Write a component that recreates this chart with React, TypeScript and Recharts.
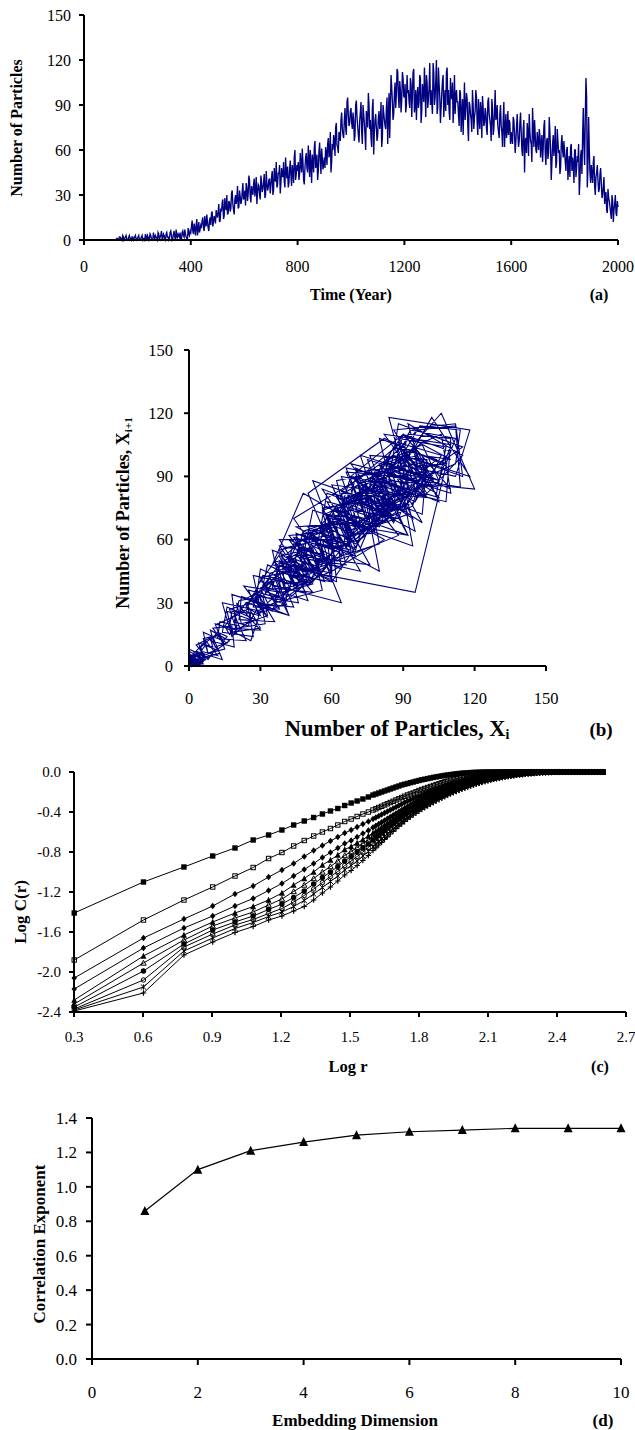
import React from 'react';
import { LineChart, Line, XAxis, YAxis } from 'recharts';

const FONT = '"Liberation Serif", "Times New Roman", serif';

// ---------- Panel (a): number of particles ----------
// readings on whole 5-year marks (0, 5, ..., 2000)
const particlesOnStep: number[] = [
  0,0,0,0,0,0,0,0,0,0,0,0,0,0,0,0,0,0,0,0,
  0,0,0,0,0,1,0,2,1,3,0,2,1,0,3,1,2,0,2,1,
  1,3,0,2,0,1,4,0,2,1,3,0,5,1,2,0,4,2,6,1,
  3,0,5,2,1,6,0,4,2,7,1,3,5,0,6,2,4,1,8,3,
  5,13,4,8,10,3,12,7,9,15,6,11,17,8,13,10,19,12,14,20,
  15,24,13,19,27,16,22,30,18,25,21,33,20,27,24,36,22,29,26,38,
  28,23,35,31,40,25,33,37,29,42,32,36,27,39,34,44,30,38,35,41,
  36,46,33,40,52,37,44,31,48,42,39,55,41,35,47,43,50,38,60,44,
  46,40,58,45,52,37,55,48,63,42,50,57,45,66,51,40,59,53,61,47,
  55,62,50,68,58,45,64,70,56,78,62,72,66,85,70,80,75,92,83,78,
  88,74,80,70,93,76,65,85,72,90,78,60,82,98,74,68,88,57,80,75,
  70,86,78,62,90,80,74,95,83,68,110,92,84,105,97,112,88,100,93,108,
  95,85,110,100,88,104,96,114,90,80,102,92,108,86,98,115,82,105,94,118,
  100,84,112,95,120,88,104,78,98,110,92,86,115,100,80,96,105,90,84,100,
  92,76,98,84,70,105,88,94,66,90,80,100,74,86,95,70,82,92,68,88,
  78,85,70,95,80,66,88,74,100,82,76,68,90,72,80,62,84,74,70,78,
  72,64,80,58,76,70,66,85,60,74,45,68,78,56,72,64,88,62,70,58,
  66,74,55,70,62,80,50,68,58,72,40,64,56,76,52,66,60,48,70,55,
  58,46,62,50,42,64,55,38,60,48,52,30,56,44,88,50,108,35,82,45,
  50,38,56,30,45,40,34,48,28,36,24,32,18,28,22,14,26,20,30,16,
  22,
];
// readings half-way between the 5-year marks (2.5, 7.5, ..., 1997.5)
const particlesHalfStep: number[] = [
  0,0,0,0,0,0,0,0,0,0,0,0,0,0,0,0,0,0,0,0,
  0,0,0,0,1,0,2,1,0,2,1,3,0,2,1,0,2,1,3,0,
  2,0,1,3,1,0,2,3,0,4,1,0,2,3,1,5,0,3,1,4,
  1,4,2,0,5,3,1,6,0,3,4,2,0,5,3,7,2,0,4,6,
  9,6,11,3,14,7,5,10,13,8,16,9,12,6,15,18,9,16,11,17,
  19,12,21,25,14,28,20,17,26,19,31,24,17,30,28,21,33,24,32,27,
  33,38,26,43,29,36,30,41,34,24,37,30,43,32,38,28,46,33,40,31,
  42,30,48,39,35,45,50,38,43,52,35,46,49,38,53,36,45,55,40,50,
  52,44,50,61,40,48,58,45,54,60,38,53,62,48,57,46,65,44,55,50,
  48,58,64,55,72,52,60,66,75,63,58,70,80,74,68,88,70,95,76,86,
  78,85,66,90,82,70,79,92,64,84,70,86,75,90,80,62,94,72,84,66,
  82,74,92,68,85,76,88,64,98,90,102,80,98,88,114,96,106,85,112,96,
  104,90,98,92,108,82,112,85,100,95,88,110,78,104,92,100,110,88,102,90,
  92,118,90,106,84,115,95,88,106,82,100,112,90,86,108,94,78,110,96,92,
  84,100,72,94,88,80,98,76,92,84,72,90,82,100,78,94,74,86,96,76,
  88,74,92,84,76,94,70,86,80,90,72,84,76,62,92,74,68,86,80,64,
  68,82,70,66,84,62,78,72,56,80,66,58,72,84,66,52,74,80,60,72,
  60,70,64,52,76,58,66,54,82,60,52,70,62,48,74,58,44,64,60,66,
  52,60,40,56,62,46,50,60,42,56,64,40,60,70,62,82,95,48,60,38,
  44,52,36,42,50,32,44,38,30,42,30,20,34,26,18,30,12,24,18,26,
];
const YEAR_STEP = 5;
const timeTicks = [0, 400, 800, 1200, 1600, 2000];
const countTicks = [0, 30, 60, 90, 120, 150];

// ---------- Panel (c): log C(r) vs log r, embedding dimensions 1..10 ----------
const logR = [
  0.301,0.602,0.778,0.903,1.0,1.079,1.146,1.204,1.255,1.301,
  1.342,1.38,1.415,1.447,1.477,1.505,1.531,1.556,1.58,
  1.6,1.6125,1.625,1.6375,1.65,1.6625,1.675,1.6875,
  1.7,1.7125,1.725,1.7375,1.75,1.7625,1.775,1.7875,
  1.8,1.8125,1.825,1.8375,1.85,1.8625,1.875,1.8875,
  1.9,1.9125,1.925,1.9375,1.95,1.9625,1.975,1.9875,
  2.0,2.0125,2.025,2.0375,2.05,2.0625,2.075,2.0875,
  2.1,2.1125,2.125,2.1375,2.15,2.1625,2.175,2.1875,
  2.2,2.2125,2.225,2.2375,2.25,2.2625,2.275,2.2875,
  2.3,2.3125,2.325,2.3375,2.35,2.3625,2.375,2.3875,
  2.4,2.4125,2.425,2.4375,2.45,2.4625,2.475,2.4875,
  2.5,2.5125,2.525,2.5375,2.55,2.5625,2.575,2.5875,
  2.6,
];
const m1 = [
  -1.41,-1.10,-0.95,-0.84,-0.76,-0.68,-0.63,-0.58,-0.53,-0.49,
  -0.455,-0.42,-0.39,-0.365,-0.335,-0.31,-0.29,-0.27,-0.25,
  -0.23,-0.22,-0.21,-0.2,-0.19,-0.18,-0.17,-0.16,
  -0.15,-0.14,-0.13,-0.122,-0.115,-0.107,-0.1,-0.092,
  -0.085,-0.078,-0.072,-0.066,-0.06,-0.054,-0.049,-0.044,
  -0.039,-0.034,-0.03,-0.026,-0.022,-0.018,-0.015,-0.012,
  -0.01,-0.008,-0.006,-0.004,-0.003,-0.002,-0.001,0,
  0,0,0,0,0,0,0,0,
  0,0,0,0,0,0,0,0,
  0,0,0,0,0,0,0,0,
  0,0,0,0,0,0,0,0,
  0,0,0,0,0,0,0,0,
  0,
];
const m2 = [
  -1.88,-1.48,-1.28,-1.15,-1.04,-0.955,-0.865,-0.805,-0.74,-0.685,
  -0.64,-0.60,-0.565,-0.53,-0.495,-0.47,-0.445,-0.42,-0.40,
  -0.38,-0.368,-0.355,-0.343,-0.33,-0.318,-0.305,-0.293,
  -0.28,-0.268,-0.255,-0.243,-0.23,-0.22,-0.21,-0.198,
  -0.185,-0.175,-0.165,-0.155,-0.145,-0.135,-0.125,-0.116,
  -0.107,-0.098,-0.09,-0.082,-0.074,-0.067,-0.06,-0.053,
  -0.047,-0.041,-0.036,-0.031,-0.026,-0.022,-0.018,-0.014,
  -0.011,-0.008,-0.006,-0.004,-0.003,-0.002,-0.001,0,
  0,0,0,0,0,0,0,0,
  0,0,0,0,0,0,0,0,
  0,0,0,0,0,0,0,0,
  0,0,0,0,0,0,0,0,
  0,
];
const m3 = [
  -2.06,-1.66,-1.47,-1.34,-1.22,-1.14,-1.05,-0.98,-0.915,-0.845,
  -0.785,-0.735,-0.69,-0.65,-0.61,-0.58,-0.55,-0.52,-0.495,
  -0.47,-0.455,-0.44,-0.425,-0.41,-0.395,-0.38,-0.365,
  -0.35,-0.335,-0.32,-0.305,-0.29,-0.278,-0.265,-0.253,
  -0.24,-0.228,-0.215,-0.203,-0.19,-0.179,-0.168,-0.157,
  -0.147,-0.137,-0.127,-0.117,-0.108,-0.099,-0.09,-0.082,
  -0.074,-0.067,-0.06,-0.053,-0.047,-0.041,-0.036,-0.031,
  -0.027,-0.023,-0.019,-0.016,-0.013,-0.01,-0.008,-0.006,
  -0.005,-0.003,-0.002,-0.001,-0.001,0,0,0,
  0,0,0,0,0,0,0,0,
  0,0,0,0,0,0,0,0,
  0,0,0,0,0,0,0,0,
  0,
];
const m4 = [
  -2.17,-1.76,-1.56,-1.44,-1.34,-1.265,-1.185,-1.115,-1.04,-0.975,
  -0.915,-0.855,-0.805,-0.76,-0.715,-0.685,-0.65,-0.615,-0.585,
  -0.555,-0.538,-0.52,-0.503,-0.485,-0.468,-0.45,-0.433,
  -0.415,-0.398,-0.38,-0.363,-0.345,-0.328,-0.312,-0.296,
  -0.28,-0.266,-0.252,-0.238,-0.225,-0.212,-0.2,-0.189,
  -0.178,-0.167,-0.156,-0.145,-0.135,-0.126,-0.117,-0.108,
  -0.1,-0.092,-0.084,-0.077,-0.07,-0.063,-0.057,-0.051,
  -0.046,-0.041,-0.036,-0.032,-0.028,-0.024,-0.021,-0.018,
  -0.015,-0.012,-0.01,-0.008,-0.006,-0.004,-0.003,-0.002,
  -0.001,0,0,0,0,0,0,0,
  0,0,0,0,0,0,0,0,
  0,0,0,0,0,0,0,0,
  0,
];
const m5 = [
  -2.28,-1.84,-1.63,-1.50,-1.41,-1.345,-1.28,-1.21,-1.13,-1.065,
  -1.0,-0.93,-0.88,-0.83,-0.775,-0.745,-0.71,-0.675,-0.64,
  -0.61,-0.59,-0.57,-0.55,-0.53,-0.51,-0.49,-0.47,
  -0.45,-0.43,-0.41,-0.391,-0.372,-0.355,-0.338,-0.322,
  -0.306,-0.291,-0.276,-0.262,-0.248,-0.235,-0.222,-0.21,
  -0.198,-0.186,-0.175,-0.164,-0.153,-0.143,-0.133,-0.123,
  -0.114,-0.105,-0.097,-0.089,-0.082,-0.075,-0.068,-0.062,
  -0.056,-0.05,-0.045,-0.04,-0.036,-0.032,-0.028,-0.024,
  -0.021,-0.018,-0.015,-0.012,-0.01,-0.008,-0.006,-0.004,
  -0.003,-0.002,-0.001,0,0,0,0,0,
  0,0,0,0,0,0,0,0,
  0,0,0,0,0,0,0,0,
  0,
];
const m6 = [
  -2.32,-1.91,-1.68,-1.54,-1.46,-1.40,-1.33,-1.27,-1.195,-1.13,
  -1.065,-1.0,-0.945,-0.89,-0.835,-0.795,-0.755,-0.715,-0.68,
  -0.645,-0.623,-0.6,-0.578,-0.555,-0.533,-0.51,-0.49,
  -0.47,-0.45,-0.43,-0.411,-0.392,-0.374,-0.356,-0.34,
  -0.324,-0.308,-0.293,-0.278,-0.264,-0.25,-0.237,-0.224,
  -0.212,-0.2,-0.188,-0.176,-0.165,-0.154,-0.144,-0.134,
  -0.125,-0.116,-0.107,-0.099,-0.091,-0.084,-0.077,-0.07,
  -0.064,-0.058,-0.052,-0.047,-0.042,-0.037,-0.033,-0.029,
  -0.026,-0.022,-0.019,-0.016,-0.014,-0.011,-0.009,-0.007,
  -0.006,-0.004,-0.003,-0.002,-0.001,0,0,0,
  0,0,0,0,0,0,0,0,
  0,0,0,0,0,0,0,0,
  0,
];
const m7 = [
  -2.35,-1.99,-1.72,-1.58,-1.50,-1.44,-1.375,-1.32,-1.255,-1.19,
  -1.12,-1.055,-1.0,-0.945,-0.89,-0.845,-0.80,-0.76,-0.72,
  -0.68,-0.656,-0.632,-0.608,-0.585,-0.561,-0.537,-0.515,
  -0.493,-0.471,-0.45,-0.43,-0.41,-0.391,-0.373,-0.356,
  -0.34,-0.324,-0.308,-0.293,-0.278,-0.264,-0.25,-0.237,
  -0.224,-0.211,-0.199,-0.187,-0.176,-0.165,-0.154,-0.144,
  -0.134,-0.125,-0.116,-0.107,-0.099,-0.091,-0.084,-0.077,
  -0.07,-0.064,-0.058,-0.052,-0.047,-0.042,-0.038,-0.034,
  -0.03,-0.026,-0.023,-0.02,-0.017,-0.014,-0.012,-0.01,
  -0.008,-0.006,-0.005,-0.004,-0.003,-0.002,-0.001,0,
  0,0,0,0,0,0,0,0,
  0,0,0,0,0,0,0,0,
  0,
];
const m8 = [
  -2.37,-2.08,-1.75,-1.62,-1.53,-1.475,-1.415,-1.365,-1.30,-1.235,
  -1.17,-1.105,-1.045,-0.995,-0.935,-0.89,-0.845,-0.80,-0.755,
  -0.715,-0.69,-0.665,-0.64,-0.615,-0.59,-0.565,-0.541,
  -0.518,-0.495,-0.473,-0.451,-0.43,-0.411,-0.392,-0.374,
  -0.357,-0.34,-0.323,-0.307,-0.292,-0.277,-0.263,-0.249,
  -0.236,-0.223,-0.21,-0.198,-0.186,-0.174,-0.163,-0.153,
  -0.143,-0.133,-0.124,-0.115,-0.106,-0.098,-0.09,-0.083,
  -0.076,-0.069,-0.063,-0.057,-0.052,-0.047,-0.042,-0.037,
  -0.033,-0.029,-0.026,-0.022,-0.019,-0.016,-0.014,-0.012,
  -0.01,-0.008,-0.006,-0.005,-0.004,-0.003,-0.002,-0.001,
  -0.001,0,0,0,0,0,0,0,
  0,0,0,0,0,0,0,0,
  0,
];
const m9 = [
  -2.38,-2.15,-1.79,-1.66,-1.565,-1.505,-1.445,-1.40,-1.345,-1.285,
  -1.22,-1.155,-1.095,-1.04,-0.98,-0.935,-0.89,-0.84,-0.795,
  -0.75,-0.724,-0.698,-0.671,-0.645,-0.619,-0.593,-0.568,
  -0.543,-0.519,-0.496,-0.474,-0.452,-0.432,-0.412,-0.393,
  -0.375,-0.357,-0.34,-0.323,-0.307,-0.292,-0.277,-0.262,
  -0.248,-0.234,-0.221,-0.208,-0.196,-0.184,-0.172,-0.161,
  -0.151,-0.141,-0.131,-0.122,-0.113,-0.104,-0.096,-0.088,
  -0.081,-0.074,-0.068,-0.062,-0.056,-0.051,-0.046,-0.041,
  -0.037,-0.033,-0.029,-0.025,-0.022,-0.019,-0.016,-0.014,
  -0.012,-0.01,-0.008,-0.006,-0.005,-0.004,-0.003,-0.002,
  -0.002,-0.001,-0.001,0,0,0,0,0,
  0,0,0,0,0,0,0,0,
  0,
];
const m10 = [
  -2.39,-2.21,-1.83,-1.70,-1.605,-1.545,-1.48,-1.44,-1.39,-1.345,
  -1.28,-1.21,-1.15,-1.09,-1.03,-0.985,-0.935,-0.885,-0.835,
  -0.785,-0.758,-0.73,-0.703,-0.675,-0.648,-0.62,-0.593,
  -0.567,-0.542,-0.518,-0.495,-0.472,-0.451,-0.43,-0.411,
  -0.392,-0.374,-0.356,-0.339,-0.322,-0.306,-0.29,-0.275,
  -0.26,-0.246,-0.232,-0.219,-0.206,-0.194,-0.182,-0.171,
  -0.16,-0.15,-0.14,-0.13,-0.121,-0.112,-0.104,-0.096,
  -0.088,-0.081,-0.074,-0.068,-0.062,-0.056,-0.051,-0.046,
  -0.042,-0.038,-0.034,-0.03,-0.027,-0.024,-0.021,-0.018,
  -0.016,-0.013,-0.011,-0.009,-0.008,-0.006,-0.005,-0.004,
  -0.003,-0.002,-0.002,-0.001,-0.001,0,0,0,
  0,0,0,0,0,0,0,0,
  0,
];
const curves = [m1, m2, m3, m4, m5, m6, m7, m8, m9, m10];
const markerShapes = ['sq', 'sqo', 'dia', 'dia', 'tri', 'trio', 'circ', 'circo', 'x', 'plus'];
const logRTicks = [0.3, 0.6, 0.9, 1.2, 1.5, 1.8, 2.1, 2.4, 2.7];
const logCTicks = [-2.4, -2.0, -1.6, -1.2, -0.8, -0.4, 0.0];

// ---------- Panel (d): correlation exponent vs embedding dimension ----------
const embedDim = [1, 2, 3, 4, 5, 6, 7, 8, 9, 10];
const corrExp = [0.86, 1.10, 1.21, 1.26, 1.30, 1.32, 1.33, 1.34, 1.34, 1.34];
const dimTicks = [0, 2, 4, 6, 8, 10];
const expTicks = [0, 0.2, 0.4, 0.6, 0.8, 1.0, 1.2, 1.4];

// ---------- derived tables ----------
const tsRows: { t: number; v: number }[] = [];
particlesOnStep.forEach((v, i) => {
  tsRows.push({ t: i * YEAR_STEP, v });
  if (i < particlesHalfStep.length) tsRows.push({ t: i * YEAR_STEP + YEAR_STEP / 2, v: particlesHalfStep[i] });
});
const series = tsRows.map((r) => r.v);
const phaseRows = series.slice(0, -1).map((v, i) => ({ x: v, y: series[i + 1] }));
const logRows = logR.map((x, i) => {
  const row: any = { x };
  curves.forEach((c, k) => { row['c' + (k + 1)] = c[i]; });
  return row;
});
const dimRows = embedDim.map((d, i) => ({ d, e: corrExp[i] }));

const axisLine = { stroke: '#000', strokeWidth: 2 };
const tickFont = (size: number) => ({ fill: '#000', fontSize: size, fontFamily: FONT });

function Marker({ cx, cy, shape, r }: any) {
  if (cx == null || cy == null || isNaN(cx) || isNaN(cy)) return null;
  switch (shape) {
    case 'sq':
      return <rect x={cx - r} y={cy - r} width={2 * r} height={2 * r} fill="#000" />;
    case 'sqo':
      return <rect x={cx - r + 0.5} y={cy - r + 0.5} width={2 * r - 1} height={2 * r - 1} fill="none" stroke="#000" strokeWidth={1} />;
    case 'dia':
      return <polygon points={`${cx},${cy - r - 0.6} ${cx + r},${cy} ${cx},${cy + r + 0.6} ${cx - r},${cy}`} fill="#000" />;
    case 'tri':
      return <polygon points={`${cx},${cy - r - 0.5} ${cx + r + 0.3},${cy + r} ${cx - r - 0.3},${cy + r}`} fill="#000" />;
    case 'trio':
      return <polygon points={`${cx},${cy - r} ${cx + r},${cy + r - 0.5} ${cx - r},${cy + r - 0.5}`} fill="none" stroke="#000" strokeWidth={1} />;
    case 'circ':
      return <circle cx={cx} cy={cy} r={r} fill="#000" />;
    case 'circo':
      return <circle cx={cx} cy={cy} r={r - 0.5} fill="none" stroke="#000" strokeWidth={1} />;
    case 'x':
      return <path d={`M${cx - r},${cy - r}L${cx + r},${cy + r}M${cx - r},${cy + r}L${cx + r},${cy - r}M${cx},${cy - r}L${cx},${cy + r}`} stroke="#000" strokeWidth={1} fill="none" />;
    case 'plus':
      return <path d={`M${cx - r},${cy}L${cx + r},${cy}M${cx},${cy - r}L${cx},${cy + r}`} stroke="#000" strokeWidth={1.2} fill="none" />;
    case 'tribig':
      return <polygon points={`${cx},${cy - r - 1} ${cx + r + 0.5},${cy + r} ${cx - r - 0.5},${cy + r}`} fill="#000" />;
    default:
      return null;
  }
}

function Title({ x, y, size, rotate, children }: any) {
  return (
    <div
      style={{
        position: 'absolute',
        left: x,
        top: y,
        transform: `translate(-50%, -50%)${rotate ? ' rotate(-90deg)' : ''}`,
        fontFamily: FONT,
        fontWeight: 'bold',
        fontSize: size,
        lineHeight: 1,
        whiteSpace: 'nowrap',
        color: '#000',
      }}
    >
      {children}
    </div>
  );
}

const subStyle: React.CSSProperties = { fontSize: '0.62em', verticalAlign: '-0.25em', lineHeight: 0 };

export default function App() {
  return (
    <div style={{ position: 'absolute', left: 0, top: 0, width: 635, height: 1430, background: '#fff', overflow: 'hidden' }}>
      {/* (a) */}
      <div style={{ position: 'absolute', left: 0, top: 0 }}>
        <LineChart width={635} height={300} data={tsRows} margin={{ top: 15, right: 17, bottom: 30, left: 0 }}>
          <XAxis dataKey="t" type="number" domain={[0, 2000]} ticks={timeTicks} interval={0} height={30}
            axisLine={axisLine} tickLine={axisLine} tick={tickFont(16)} tickSize={5} tickMargin={16} />
          <YAxis type="number" domain={[0, 150]} ticks={countTicks} interval={0} width={84}
            axisLine={axisLine} tickLine={axisLine} tick={tickFont(16)} tickSize={5} tickMargin={8} />
          <Line type="linear" dataKey="v" stroke="#000080" strokeWidth={1.35} dot={false} isAnimationActive={false} />
        </LineChart>
      </div>
      <Title x={17} y={128} size={16} rotate>Number of Particles</Title>
      <Title x={351} y={295} size={16}>Time (Year)</Title>
      <Title x={599} y={295} size={16}>(a)</Title>

      {/* (b) */}
      <div style={{ position: 'absolute', left: 0, top: 340 }}>
        <LineChart width={635} height={380} data={phaseRows} margin={{ top: 10, right: 89, bottom: 24, left: 0 }}>
          <XAxis dataKey="x" type="number" domain={[0, 150]} ticks={countTicks} interval={0} height={30}
            axisLine={axisLine} tickLine={axisLine} tick={tickFont(16.5)} tickSize={5} tickMargin={21} />
          <YAxis type="number" domain={[0, 150]} ticks={countTicks} interval={0} width={189}
            axisLine={axisLine} tickLine={axisLine} tick={tickFont(16.5)} tickSize={5} tickMargin={11} />
          <Line type="linear" dataKey="y" stroke="#000080" strokeWidth={1.1} dot={false} isAnimationActive={false} />
        </LineChart>
      </div>
      <Title x={123} y={513} size={18} rotate>Number of Particles, X<sub style={subStyle}>i+1</sub></Title>
      <Title x={397} y={729} size={22.5}>Number of Particles, X<sub style={subStyle}>i</sub></Title>
      <Title x={601} y={729} size={19}>(b)</Title>

      {/* (c) */}
      <div style={{ position: 'absolute', left: 0, top: 760 }}>
        <LineChart width={635} height={300} data={logRows} margin={{ top: 12, right: 9, bottom: 18, left: 0 }}>
          <XAxis dataKey="x" type="number" domain={[0.3, 2.7]} ticks={logRTicks} interval={0} height={30}
            tickFormatter={(v: number) => v.toFixed(1)}
            axisLine={axisLine} tickLine={axisLine} tick={tickFont(15)} tickSize={5} tickMargin={14} />
          <YAxis type="number" domain={[-2.4, 0]} ticks={logCTicks} interval={0} width={74}
            tickFormatter={(v: number) => v.toFixed(1)}
            axisLine={axisLine} tickLine={axisLine} tick={tickFont(15)} tickSize={5} tickMargin={8} />
          {curves.map((_, k) => (
            <Line
              key={'c' + k}
              type="linear"
              dataKey={'c' + (k + 1)}
              stroke="#000"
              strokeWidth={1}
              isAnimationActive={false}
              dot={(p: any) => <Marker key={`c${k}-${p.index}`} cx={p.cx} cy={p.cy} shape={markerShapes[k]} r={2.7} />}
            />
          ))}
        </LineChart>
      </div>
      <Title x={20} y={912} size={17} rotate>Log C(r)</Title>
      <Title x={348} y={1067} size={16.5}>Log r</Title>
      <Title x={600} y={1067} size={16}>(c)</Title>

      {/* (d) */}
      <div style={{ position: 'absolute', left: 0, top: 1100 }}>
        <LineChart width={635} height={330} data={dimRows} margin={{ top: 18, right: 14, bottom: 41, left: 0 }}>
          <XAxis dataKey="d" type="number" domain={[0, 10]} ticks={dimTicks} interval={0} height={30}
            axisLine={axisLine} tickLine={axisLine} tick={tickFont(17)} tickSize={6} tickMargin={21} />
          <YAxis type="number" domain={[0, 1.4]} ticks={expTicks} interval={0} width={92}
            tickFormatter={(v: number) => v.toFixed(1)}
            axisLine={axisLine} tickLine={axisLine} tick={tickFont(17)} tickSize={6} tickMargin={9} />
          <Line
            type="linear"
            dataKey="e"
            stroke="#000"
            strokeWidth={1.2}
            isAnimationActive={false}
            dot={(p: any) => <Marker key={`d-${p.index}`} cx={p.cx} cy={p.cy} shape="tribig" r={4} />}
          />
        </LineChart>
      </div>
      <Title x={39} y={1244} size={17} rotate>Correlation Exponent</Title>
      <Title x={355} y={1420} size={17}>Embedding Dimension</Title>
      <Title x={603} y={1420} size={17}>(d)</Title>
    </div>
  );
}
